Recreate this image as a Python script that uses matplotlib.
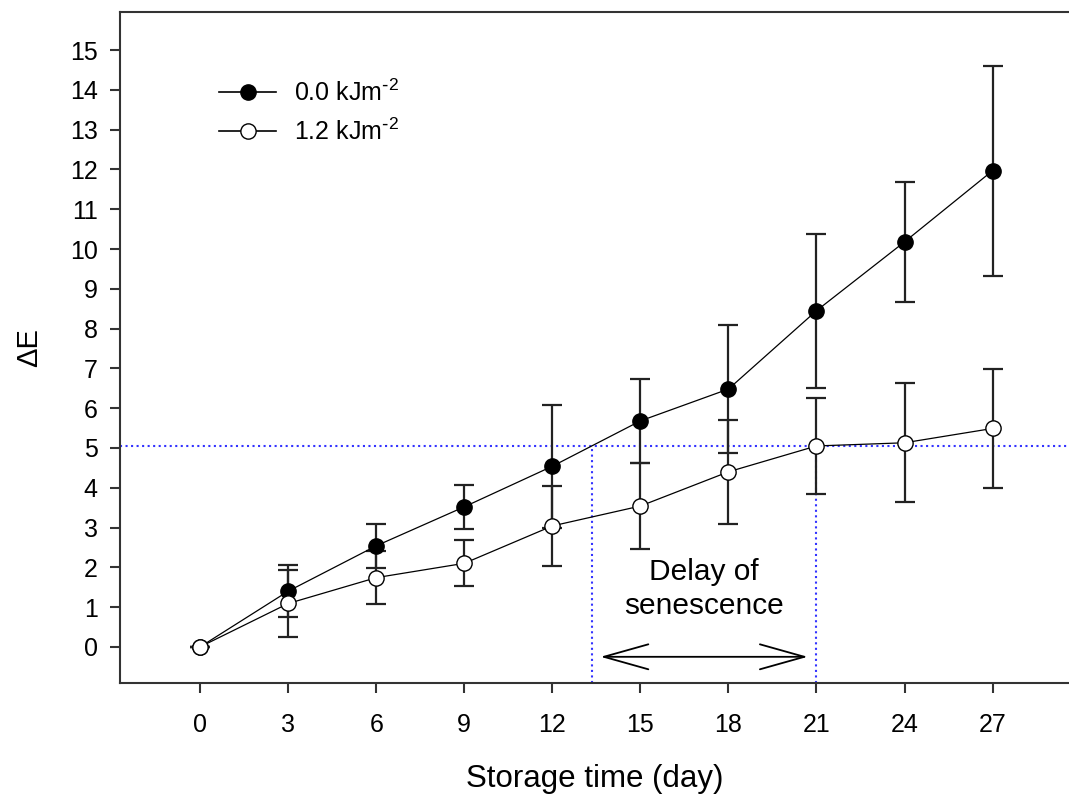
import numpy as np
import matplotlib.pyplot as plt
from matplotlib.lines import Line2D

plt.rcParams['font.family'] = ['Liberation Sans', 'DejaVu Sans']
plt.rcParams['mathtext.default'] = 'regular'

# storage time (day) and colour change (delta E) for the two UV-C doses
days = [0, 3, 6, 9, 12, 15, 18, 21, 24, 27]
de_00 = [0.0, 1.40, 2.54, 3.52, 4.54, 5.68, 6.48, 8.45, 10.18, 11.97]
err_00 = [0.0, 0.65, 0.55, 0.55, 1.55, 1.06, 1.60, 1.94, 1.50, 2.64]
de_12 = [0.0, 1.09, 1.74, 2.10, 3.04, 3.54, 4.40, 5.05, 5.13, 5.49]
err_12 = [0.0, 0.84, 0.67, 0.58, 1.01, 1.07, 1.30, 1.20, 1.50, 1.50]
labels = ['0.0 kJm$^{\\text{-}2}$', '1.2 kJm$^{\\text{-}2}$']

fig = plt.figure(figsize=(10.69, 7.95), dpi=100)
ax = fig.add_axes([0.1123, 0.1413, 0.8877 + 0.001, 0.8432])

# error bars first, then lines + markers on top
ax.errorbar(days, de_00, yerr=err_00, fmt='none', ecolor='#222222',
            elinewidth=1.6, capsize=7, capthick=1.6, zorder=2)
ax.errorbar(days, de_12, yerr=err_12, fmt='none', ecolor='#222222',
            elinewidth=1.6, capsize=7, capthick=1.6, zorder=2)
ax.plot(days, de_00, '-o', color='black', lw=0.9, ms=11,
        mfc='black', mec='black', mew=1.0, zorder=4)
ax.plot(days, de_12, '-o', color='black', lw=0.9, ms=11,
        mfc='white', mec='black', mew=1.0, zorder=5)

# reference level: the 1.2 kJ value at day 21, and where the 0.0 curve reaches it
level = de_12[7]
cross = np.interp(level, de_00, days)
ax.axhline(level, color='#3333ff', ls=':', lw=1.5, zorder=1)
ymin = -0.90
ax.plot([cross, cross], [ymin, level], color='#3333ff', ls=':', lw=1.5, zorder=1)
ax.plot([days[7], days[7]], [ymin, level], color='#3333ff', ls=':', lw=1.5, zorder=1)

ax.annotate('', xy=(cross + 0.3, -0.25), xytext=(days[7] - 0.3, -0.25),
            arrowprops=dict(arrowstyle='<->, head_length=3.2, head_width=0.9',
                            color='black', lw=1.3, shrinkA=0, shrinkB=0,
                            mutation_scale=10))
ax.text((cross + days[7]) / 2, 1.45, 'Delay of\nsenescence', ha='center',
        va='center', fontsize=21.5, linespacing=1.3)

handles = [Line2D([], [], color='black', lw=1.2, marker='o', ms=11, mfc='black', mec='black'),
           Line2D([], [], color='black', lw=1.2, marker='o', ms=11, mfc='white', mec='black')]
ax.legend(handles, labels, loc='upper left', bbox_to_anchor=(0.104, 0.900),
          frameon=False, fontsize=18, handlelength=2.3, handletextpad=0.7,
          labelspacing=0.5, borderpad=0, borderaxespad=0)

ax.set_xlim(-2.73, 29.64)
ax.set_ylim(ymin, 15.95)
ax.set_xticks(days)
ax.set_yticks(range(0, 16))
ax.tick_params(direction='out', length=7, width=1.5, labelsize=18, color='#333333')
ax.tick_params(axis='y', pad=9)
ax.tick_params(axis='x', pad=15)
ax.spines['right'].set_visible(False)
for s in ['left', 'top', 'bottom']:
    ax.spines[s].set_linewidth(1.5)
    ax.spines[s].set_color('#333333')

ax.set_xlabel('Storage time (day)', fontsize=22.5, labelpad=19)
ax.set_ylabel('ΔE', fontsize=21, labelpad=19)

fig.savefig('out.png', dpi=100)
